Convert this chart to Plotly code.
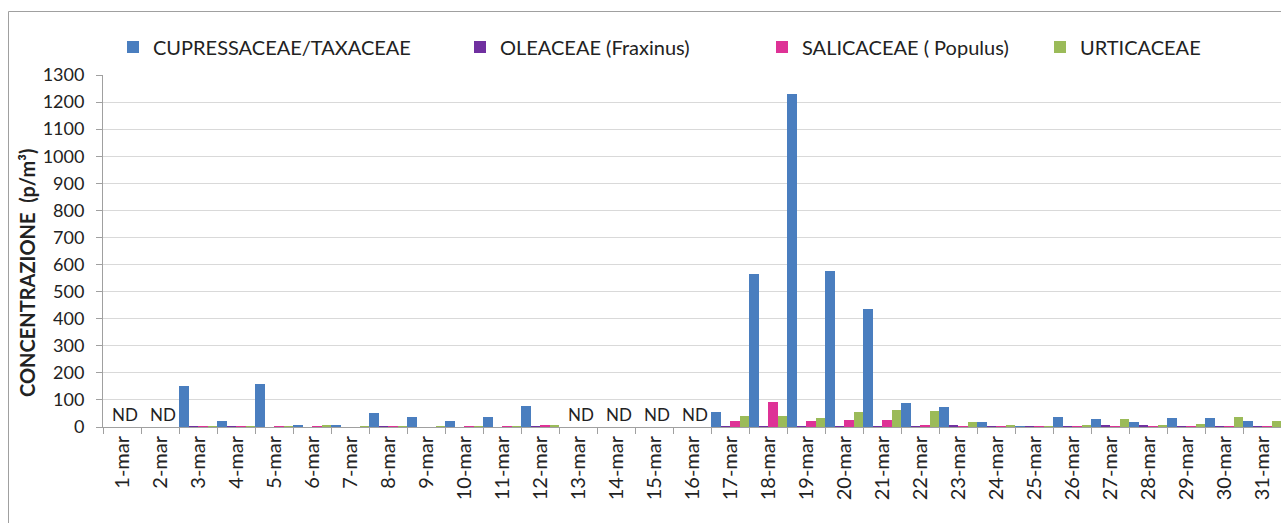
import plotly.graph_objects as go

days = ["1-mar", "2-mar", "3-mar", "4-mar", "5-mar", "6-mar", "7-mar", "8-mar",
        "9-mar", "10-mar", "11-mar", "12-mar", "13-mar", "14-mar", "15-mar", "16-mar",
        "17-mar", "18-mar", "19-mar", "20-mar", "21-mar", "22-mar", "23-mar", "24-mar",
        "25-mar", "26-mar", "27-mar", "28-mar", "29-mar", "30-mar", "31-mar"]

cupressaceae = [None, None, 152, 23, 158, 9, 8, 50, 36, 24, 37, 79, None, None, None, None,
                54, 565, 1230, 578, 435, 87, 73, 18, 3, 37, 30, 17, 34, 34, 22]
oleaceae = [None, None, 1, 1, 0, 0, 0, 2, 0, 0, 0, 1, None, None, None, None,
            1, 1, 1, 1, 1, 1, 8, 1, 1, 1, 5, 9, 1, 1, 1]
salicaceae = [None, None, 1, 1, 2, 1, 0, 1, 0, 1, 1, 6, None, None, None, None,
              23, 93, 21, 27, 27, 5, 3, 2, 1, 2, 3, 2, 1, 2, 2]
urticaceae = [None, None, 1, 3, 1, 4, 3, 3, 2, 2, 2, 4, None, None, None, None,
              40, 40, 32, 54, 62, 58, 17, 8, 3, 4, 31, 8, 10, 37, 24]

nd_days = ["1-mar", "2-mar", "13-mar", "14-mar", "15-mar", "16-mar"]

series_names = ["CUPRESSACEAE/TAXACEAE", "OLEACEAE (Fraxinus)", "SALICACEAE ( Populus)", "URTICACEAE"]
series_values = [cupressaceae, oleaceae, salicaceae, urticaceae]
colors = ["#4a7ebf", "#7030a0", "#de3296", "#9bbb59"]

W, H = 1281, 523
PLOT_X0, PLOT_X1 = 103, 1281
PLOT_Y0, PLOT_Y1 = 75, 427
L, R = PLOT_X0, W - PLOT_X1
T, B = PLOT_Y0, H - PLOT_Y1
PW = PLOT_X1 - PLOT_X0
PH = PLOT_Y1 - PLOT_Y0


def px_x(x):
    return (x - PLOT_X0) / PW


def px_y(y):
    return (PLOT_Y1 - y) / PH


legend_names = ["legend", "legend2", "legend3", "legend4"]
legend_text_x = [153, 500, 802, 1080]
FONT = "Lato, 'Open Sans', sans-serif"

fig = go.Figure()
for name, vals, col, lg in zip(series_names, series_values, colors, legend_names):
    fig.add_trace(go.Bar(x=days, y=vals, name=name, marker=dict(color=col, line=dict(width=0)),
                         legend=lg, showlegend=True))

legend_layout = {}
for lg, tx in zip(legend_names, legend_text_x):
    legend_layout[lg] = dict(
        x=px_x(tx - 40), y=px_y(47), xanchor="left", yanchor="middle",
        orientation="h", bgcolor="rgba(0,0,0,0)", borderwidth=0,
        font=dict(family=FONT, size=20, color="#222"), itemwidth=30,
    )

annotations = []
for d in nd_days:
    annotations.append(dict(x=d, y=46, xref="x", yref="y", text="ND", showarrow=False,
                            xshift=3, font=dict(family=FONT, size=17, color="#222")))
annotations.append(dict(x=px_x(27), y=px_y(273), xref="paper", yref="paper",
                        text="<b>CONCENTRAZIONE  (p/m³)</b>", textangle=-90, showarrow=False,
                        xanchor="center", yanchor="middle",
                        font=dict(family=FONT, size=20, color="#222")))

fig.update_layout(
    width=W, height=H,
    margin=dict(l=L, r=R, t=T, b=B, pad=0, autoexpand=False),
    paper_bgcolor="white", plot_bgcolor="white",
    barmode="group", bargap=0, bargroupgap=0,
    showlegend=True,
    font=dict(family=FONT, size=17, color="#222"),
    annotations=annotations,
    shapes=[dict(type="rect", xref="paper", yref="paper",
                 x0=px_x(8.5), x1=px_x(1400), y0=px_y(560), y1=px_y(11.5),
                 line=dict(color="#a0a0a0", width=1), fillcolor="rgba(0,0,0,0)", layer="below")],
    **legend_layout,
)

fig.update_yaxes(range=[0, 1300], dtick=100, showgrid=True, gridcolor="#d9d9d9", gridwidth=1,
                 showline=True, linecolor="#a0a0a0", linewidth=1, ticks="outside", ticklen=6,
                 tickcolor="#a0a0a0", ticklabelstandoff=8, zeroline=False,
                 tickfont=dict(family=FONT, size=18, color="#222"))
fig.update_xaxes(type="category", categoryorder="array", categoryarray=days,
                 showline=True, linecolor="#a0a0a0", linewidth=1, ticks="outside", ticklen=6,
                 tickcolor="#a0a0a0", tickson="boundaries", tickangle=-90, showgrid=False,
                 tickfont=dict(family=FONT, size=20, color="#222"))

fig.write_html("out.html", config={"displayModeBar": False},
               post_script="document.body.style.margin='0px';document.body.style.overflow='hidden';")
